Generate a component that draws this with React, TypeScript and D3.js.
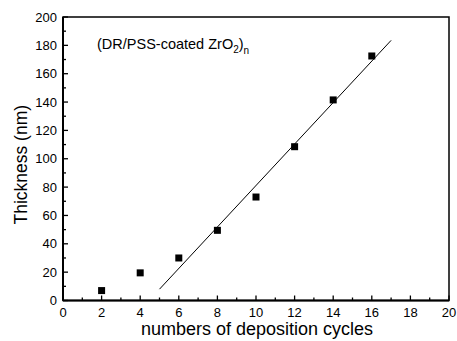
import * as d3 from "d3";

const cycles = [2, 4, 6, 8, 10, 12, 14, 16];
const thickness = [7, 19.5, 30, 49.5, 73, 108.5, 141.5, 172.5];
const fitX = [5, 17];
const fitY = [8, 183.5];
const xTicks = d3.range(0, 21, 2);
const yTicks = d3.range(0, 201, 20);

const W = 457;
const H = 341;
const left = 63;
const right = 449;
const top = 17;
const bottom = 300.5;
const font = "Liberation Sans, Arial, sans-serif";

export default function App() {
  const x = d3.scaleLinear().domain([0, 20]).range([left, right]);
  const y = d3.scaleLinear().domain([0, 200]).range([bottom, top]);
  const line = d3
    .line<number>()
    .x((d) => x(d))
    .y((_, i) => y(fitY[i]));

  return (
    <svg
      width={W}
      height={H}
      style={{ position: "absolute", left: 0, top: 0, background: "#fff" }}
    >
      <rect x={left} y={top} width={right - left} height={bottom - top} fill="none" stroke="#000" strokeWidth={1.5} />
      <line x1={left} x2={right} y1={bottom} y2={bottom} stroke="#000" strokeWidth={2} />
      <line x1={left} x2={left} y1={top} y2={bottom} stroke="#000" strokeWidth={2} />

      {d3.range(0, 21, 1).map((t) => (
        <line
          key={"xt" + t}
          x1={x(t)}
          x2={x(t)}
          y1={bottom}
          y2={bottom - (t % 2 === 0 ? 5 : 3)}
          stroke="#000"
          strokeWidth={1.3}
        />
      ))}
      {xTicks.map((t) => (
        <text key={"xl" + t} x={x(t)} y={317} textAnchor="middle" fontFamily={font} fontSize={13}>
          {t}
        </text>
      ))}

      {d3.range(0, 201, 10).map((t) => (
        <line
          key={"yt" + t}
          x1={left}
          x2={left + (t % 20 === 0 ? 5 : 3)}
          y1={y(t)}
          y2={y(t)}
          stroke="#000"
          strokeWidth={1.3}
        />
      ))}
      {yTicks.map((t) => (
        <text key={"yl" + t} x={57} y={y(t) + 4.5} textAnchor="end" fontFamily={font} fontSize={13}>
          {t}
        </text>
      ))}

      <path d={line(fitX) ?? ""} fill="none" stroke="#000" strokeWidth={1} />

      {cycles.map((c, i) => (
        <rect key={"p" + c} x={x(c) - 3.5} y={y(thickness[i]) - 3.5} width={7} height={7} fill="#000" />
      ))}

      <text x={97} y={49} fontFamily={font} fontSize={14.5}>
        (DR/PSS-coated ZrO
        <tspan fontSize={10} dy={4}>2</tspan>
        <tspan dy={-4}>)</tspan>
        <tspan fontSize={10} dy={5}>n</tspan>
      </text>

      <text
        transform={`translate(27,${(top + bottom) / 2 + 6}) rotate(-90)`}
        textAnchor="middle"
        fontFamily={font}
        fontSize={17.5}
      >
        Thickness (nm)
      </text>
      <text x={257} y={335} textAnchor="middle" fontFamily={font} fontSize={18}>
        numbers of deposition cycles
      </text>
    </svg>
  );
}
